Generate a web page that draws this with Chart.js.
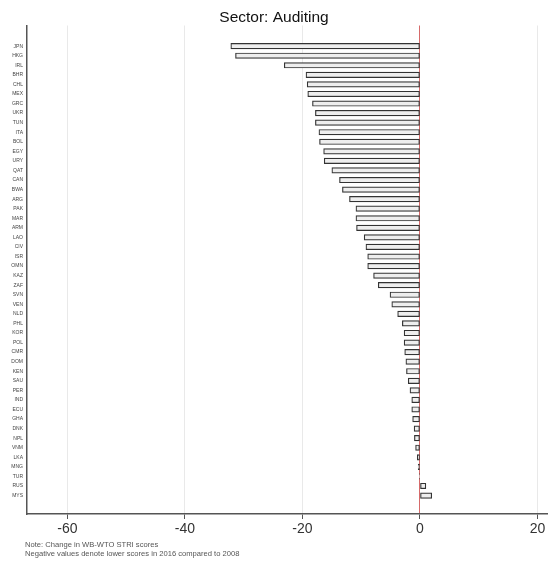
<!DOCTYPE html>
<html>
<head>
<meta charset="utf-8">
<script src="https://cdn.jsdelivr.net/npm/chart.js@4.4.1/dist/chart.umd.min.js"></script>
<style>
  html, body { margin: 0; padding: 0; background: #ffffff; }
  #wrap { width: 548px; height: 562px; position: relative; }
</style>
</head>
<body>
<div id="wrap"><canvas id="c" width="548" height="562"></canvas></div>
<script>
const chartTitle = "Sector: Auditing";
const countries = [
  "JPN","HKG","IRL","BHR","CHL","MEX","GRC","UKR","TUN","ITA","BOL","EGY",
  "URY","QAT","CAN","BWA","ARG","PAK","MAR","ARM","LAO","CIV","ISR","OMN",
  "KAZ","ZAF","SVN","VEN","NLD","PHL","KOR","POL","CMR","DOM","KEN","SAU",
  "PER","IND","ECU","GHA","DNK","NPL","VNM","LKA","MNG","TUR","RUS","MYS"
];
const changeValues = [
  -32.2, -31.4, -23.1, -19.4, -19.2, -19.1, -18.3, -17.8, -17.8, -17.2, -17.1, -16.4,
  -16.3, -15.0, -13.7, -13.2, -12.0, -10.9, -10.9, -10.8, -9.5, -9.2, -8.9, -8.9,
  -7.9, -7.1, -5.1, -4.8, -3.8, -3.0, -2.7, -2.7, -2.6, -2.4, -2.3, -2.0,
  -1.7, -1.4, -1.4, -1.25, -1.0, -0.95, -0.75, -0.45, -0.3, -0.1, 1.0, 2.0
];
const xTickValues = [-60, -40, -20, 0, 20];
const noteLines = [
  "Note: Change in WB-WTO STRI scores",
  "Negative values denote lower scores in 2016 compared to 2008"
];

const FONT = "'Liberation Sans', Arial, sans-serif";

const notePlugin = {
  id: 'notePlugin',
  afterDraw(chart) {
    const ctx = chart.ctx;
    ctx.save();
    ctx.font = "7.6px " + FONT;
    ctx.fillStyle = "#555555";
    ctx.textAlign = "left";
    ctx.textBaseline = "middle";
    noteLines.forEach((t, i) => ctx.fillText(t, 25, 545 + i * 8.5));
    ctx.restore();
  }
};

new Chart(document.getElementById('c'), {
  type: 'bar',
  data: {
    datasets: [{
      data: changeValues.map((v, i) => ({ x: v, y: i })),
      backgroundColor: '#eeeeee',
      borderColor: '#333333',
      borderWidth: 1.2,
      borderSkipped: false,
      barThickness: 5.5
    }]
  },
  plugins: [notePlugin],
  options: {
    indexAxis: 'y',
    responsive: false,
    animation: false,
    devicePixelRatio: 1,
    layout: { padding: { top: 0, right: 0, bottom: 0, left: 0 } },
    plugins: {
      legend: { display: false },
      tooltip: { enabled: false },
      title: {
        display: true,
        text: chartTitle,
        color: '#111111',
        font: { family: FONT, size: 15.5, weight: 'normal', lineHeight: 1.0 },
        padding: { top: 10, bottom: 0 }
      }
    },
    scales: {
      x: {
        type: 'linear',
        min: -66.89,
        max: 21.79,
        afterBuildTicks: (s) => { s.ticks = xTickValues.map(v => ({ value: v })); },
        afterFit: (s) => { s.height = 48; },
        ticks: {
          color: '#333333',
          font: { family: FONT, size: 14 },
          padding: 2,
          callback: (v) => String(v)
        },
        grid: {
          drawOnChartArea: true,
          drawTicks: true,
          tickLength: 5,
          tickColor: '#555555',
          color: (ctx) => (ctx.tick && ctx.tick.value === 0) ? '#d66a6a' : '#e9e9e9',
          lineWidth: 1
        },
        border: { display: true, color: '#555555', width: 1.5 }
      },
      y: {
        type: 'linear',
        reverse: true,
        offset: false,
        min: -2.16,
        max: 48.93,
        afterBuildTicks: (s) => { s.ticks = countries.map((_, i) => ({ value: i })); },
        afterFit: (s) => { s.width = 27; },
        ticks: {
          autoSkip: false,
          color: '#444444',
          font: { family: FONT, size: 5 },
          padding: 4,
          callback: (v) => countries[v] || ''
        },
        grid: { display: false, drawTicks: false, offset: false },
        border: { display: true, color: '#555555', width: 1.5 }
      }
    }
  }
});
</script>
</body>
</html>
